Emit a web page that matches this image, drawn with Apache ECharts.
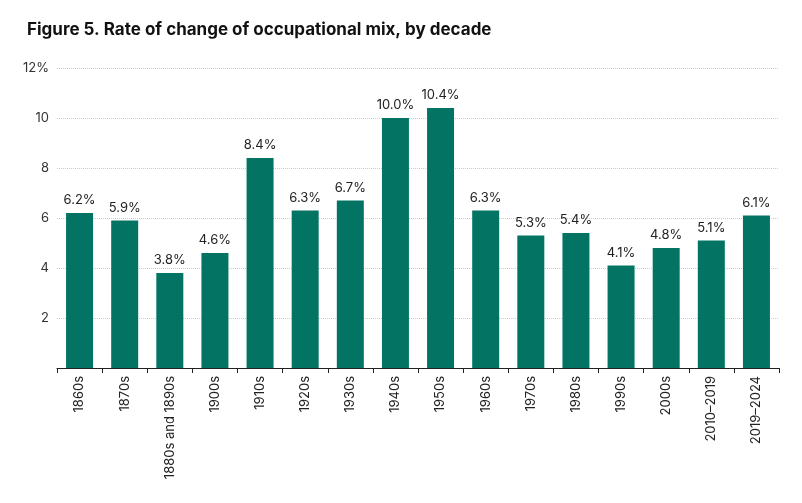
<!DOCTYPE html>
<html><head><meta charset="utf-8">
<script src="https://cdn.jsdelivr.net/npm/echarts@6/dist/echarts.min.js"></script>
<style>html,body{margin:0;padding:0;background:#fff}#c{width:802px;height:503px}</style>
</head><body><div id="c"></div>
<script>
const categories = ["1860s","1870s","1880s and 1890s","1900s","1910s","1920s","1930s","1940s","1950s","1960s","1970s","1980s","1990s","2000s","2010–2019","2019–2024"];
const values = [6.2,5.9,3.8,4.6,8.4,6.3,6.7,10.0,10.4,6.3,5.3,5.4,4.1,4.8,5.1,6.1];
const yTicks = [0,2,4,6,8,10,12];
const chart = echarts.init(document.getElementById('c'));
chart.setOption({
  animation:false,
  textStyle:{fontFamily:'Inter'},
  title:{text:'Figure 5. Rate of change of occupational mix, by decade',left:22,top:16,
    textStyle:{fontFamily:'Inter',fontSize:17,fontWeight:'bold',color:'#111'}},
  grid:{left:57,right:23,top:68,bottom:135},
  xAxis:{type:'category',data:categories,
    axisLine:{lineStyle:{color:'#222'}},
    axisTick:{show:true,alignWithLabel:false,lineStyle:{color:'#222'},length:5},
    axisLabel:{rotate:90,fontSize:13,color:'#222',interval:0,margin:8}},
  yAxis:{type:'value',min:0,max:12,interval:2,
    axisLine:{show:false},axisTick:{show:false},
    splitLine:{lineStyle:{type:'dotted',color:'#ccc'}},
    axisLabel:{fontSize:13,color:'#333',margin:8,
      formatter:v=>v===yTicks[yTicks.length-1]?v+'%':(v===0?'':String(v))}},
  series:[{type:'bar',data:values,barWidth:27,itemStyle:{color:'#037463'},
    label:{show:true,position:'top',distance:6,fontSize:13,color:'#222',
      formatter:p=>p.value.toFixed(1)+'%'}}]
});
</script></body></html>
